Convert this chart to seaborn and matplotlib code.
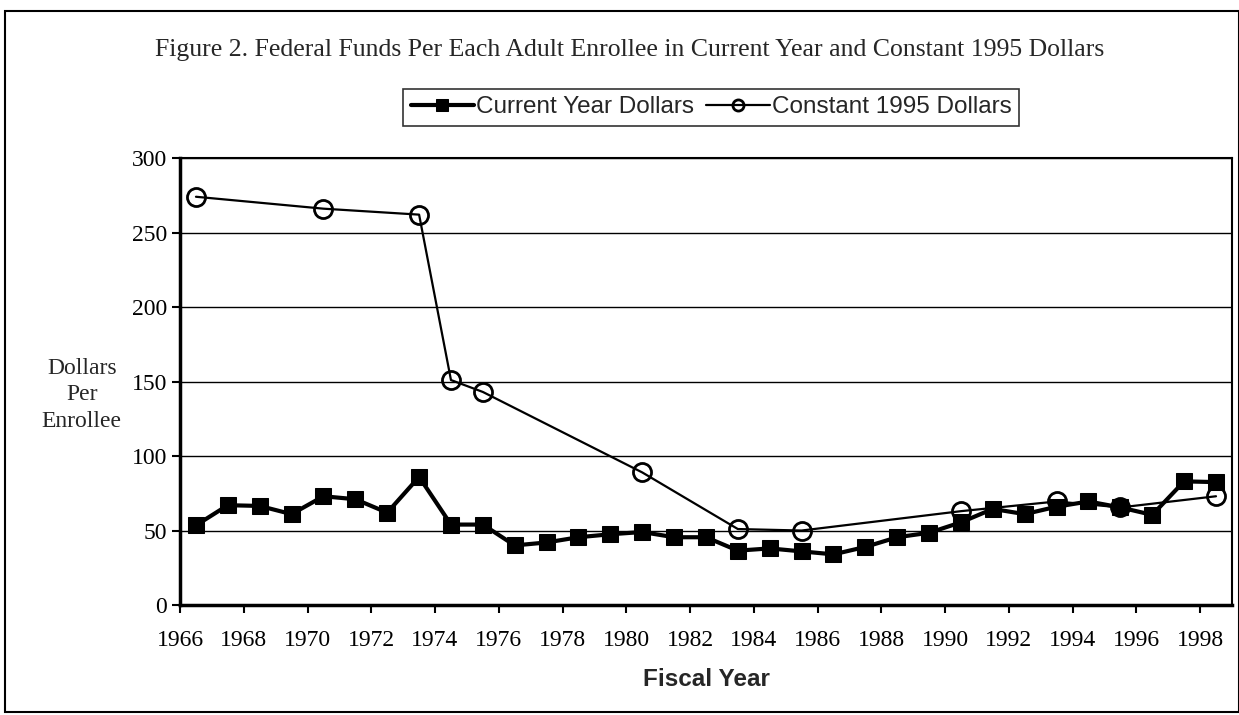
import numpy as np
import pandas as pd
import matplotlib
matplotlib.use("Agg")
import matplotlib.pyplot as plt
import seaborn as sns
from matplotlib.patches import Rectangle

# data
years_current = list(range(1966, 1999))
current_dollars = [53.5, 67, 66.5, 61, 73, 71, 62, 86, 54, 54, 40, 42, 45.5, 47.5,
                   49, 45.5, 45.5, 36.5, 38, 36, 34, 39, 45.5, 48.5, 55.5, 64.5,
                   61, 66, 69.5, 65.5, 60.5, 83, 82.5]
years_constant = [1966, 1970, 1973, 1974, 1975, 1980, 1983, 1985, 1990, 1993, 1995, 1998]
constant_dollars = [274, 266, 262, 151, 143, 89, 51, 50, 63, 69.5, 65.5, 73]
tick_years = list(range(1966, 1999, 2))

cur = pd.DataFrame({"year": years_current, "value": current_dollars})
con = pd.DataFrame({"year": years_constant, "value": constant_dollars})

sns.set_style("white")
plt.rcParams["font.family"] = ["Liberation Serif", "DejaVu Serif"]

fig = plt.figure(figsize=(12.39, 7.15), dpi=100)
ax = fig.add_axes([0.1453, 0.1538, 0.849, 0.6252])

sns.lineplot(data=cur, x="year", y="value", ax=ax, color="black", lw=3,
             marker="s", markersize=11, markeredgecolor="black",
             label="Current Year Dollars")
sns.lineplot(data=con, x="year", y="value", ax=ax, color="black", lw=1.6,
             marker="o", markersize=13, markerfacecolor="none",
             markeredgecolor="black", markeredgewidth=2,
             label="Constant 1995 Dollars")

ax.set_ylim(0, 300)
ax.set_yticks(range(0, 301, 50))
ax.set_xlim(1965.5, 1998.5)
ax.set_xticks([y - 0.5 for y in tick_years])
ax.set_xticklabels([str(y) for y in tick_years])
ax.yaxis.grid(True, color="black", lw=1)
ax.set_axisbelow(True)
for s in ax.spines.values():
    s.set_color("black")
    s.set_linewidth(1.5)
ax.spines["left"].set_linewidth(2.5)
ax.spines["bottom"].set_linewidth(2.5)
ax.tick_params(axis="both", direction="out", length=6, width=1.5,
               colors="black", labelsize=17, bottom=True, left=True)
ax.tick_params(axis="x", pad=12)

ax.set_xlabel("Fiscal Year", family="Liberation Sans", fontsize=17.5,
              fontweight="bold", labelpad=12)
ax.set_ylabel("")
fig.text(0.066, 0.448, "Dollars\nPer\nEnrollee", ha="center", va="center",
         fontsize=17, linespacing=1.35)

fig.text(0.508, 0.93, "Figure 2. Federal Funds Per Each Adult Enrollee in Current "
         "Year and Constant 1995 Dollars", ha="center", va="center", fontsize=18.5)

leg = ax.legend(loc="center", bbox_to_anchor=(0.574, 0.850),
                bbox_transform=fig.transFigure, ncol=2, frameon=True,
                fancybox=False, edgecolor="black", columnspacing=0.5,
                handlelength=2.6, handletextpad=0.1, borderpad=0.3,
                prop={"family": "Liberation Sans", "size": 17.5})
leg.get_frame().set_linewidth(1.2)
for h in leg.legend_handles:
    h.set_markersize(8)

fig.patches.append(Rectangle((0.004, 0.004), 0.996, 0.98, transform=fig.transFigure,
                             fill=False, edgecolor="black", lw=1.5))

fig.savefig("out.png", dpi=100)
